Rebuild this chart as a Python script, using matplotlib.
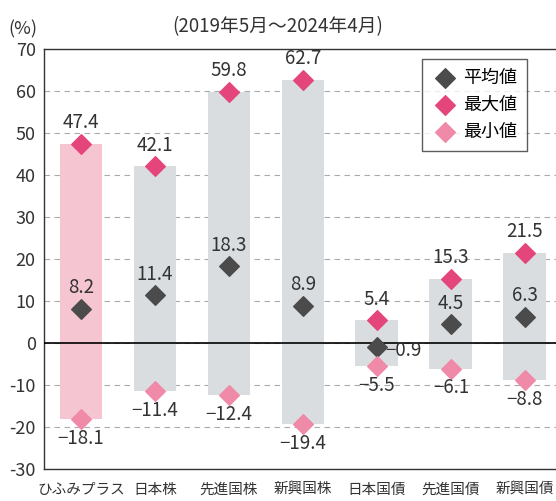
import matplotlib
matplotlib.use('Agg')
import matplotlib.pyplot as plt
import numpy as np

plt.rcParams['font.family'] = ['Noto Sans CJK JP', 'DejaVu Sans']

# data
categories = ['ひふみプラス', '日本株', '先進国株', '新興国株', '日本国債', '先進国債', '新興国債']
mean_vals = [8.2, 11.4, 18.3, 8.9, -0.9, 4.5, 6.3]
max_vals = [47.4, 42.1, 59.8, 62.7, 5.4, 15.3, 21.5]
min_vals = [-18.1, -11.4, -12.4, -19.4, -5.5, -6.1, -8.8]

c_mean = '#4b4b4b'
c_max = '#e4467b'
c_min = '#ef8aa8'
c_bar_main = '#f6c5d2'
c_bar = '#d9dde0'
c_text = '#333333'

fig = plt.figure(figsize=(5.56, 5.01), dpi=100)
ax = fig.add_axes([44 / 556, 1 - 469 / 501, 1 - 44 / 556, (469 - 49) / 501])

x = np.arange(len(categories))
colors = [c_bar_main] + [c_bar] * (len(categories) - 1)
ax.bar(x, np.array(max_vals) - np.array(min_vals), bottom=min_vals,
       width=0.58, color=colors, zorder=2)

ax.axhline(0, color='black', lw=1.2, zorder=3)

msize = 100
ax.scatter(x, mean_vals, marker='D', s=msize, color=c_mean, zorder=4, label='平均値')
ax.scatter(x, max_vals, marker='D', s=msize, color=c_max, zorder=4, label='最大値')
ax.scatter(x, min_vals, marker='D', s=msize, color=c_min, zorder=4, label='最小値')

fs = 13.5
for i in range(len(categories)):
    ax.text(x[i], max_vals[i] + 2.5, f'{max_vals[i]:.1f}', ha='center', va='bottom',
            fontsize=fs, color=c_text, zorder=5)
    if mean_vals[i] < 0:
        ax.text(x[i] + 0.11, mean_vals[i] - 1.0, f'−{abs(mean_vals[i]):.1f}', ha='left',
                va='center', fontsize=fs, color=c_text, zorder=5)
    else:
        ax.text(x[i], mean_vals[i] + 2.5, f'{mean_vals[i]:.1f}', ha='center', va='bottom',
                fontsize=fs, color=c_text, zorder=5)
    ax.text(x[i], min_vals[i] - 2.1, f'−{abs(min_vals[i]):.1f}', ha='center', va='top',
            fontsize=fs, color=c_text, zorder=5)

ax.set_xlim(-0.5, 6.42)
ax.set_ylim(-30, 70)
ax.set_yticks(np.arange(-30, 71, 10))
ax.set_yticklabels([str(v) for v in range(-30, 71, 10)], fontsize=13, color=c_text)
ax.set_xticks(x)
ax.set_xticklabels(categories, fontsize=10.5, color=c_text)
ax.tick_params(axis='both', length=0)
ax.tick_params(axis='y', pad=6)
ax.tick_params(axis='x', pad=10)
ax.grid(axis='y', ls=(0, (5, 4)), color='#aaaaaa', lw=0.8, zorder=1)
ax.spines['right'].set_visible(False)
for s in ['left', 'top', 'bottom']:
    ax.spines[s].set_color(c_text)
    ax.spines[s].set_linewidth(1.0)

leg = ax.legend(loc='upper right', bbox_to_anchor=(0.943, 0.976), fontsize=13,
                frameon=True, fancybox=False, edgecolor=c_text, handletextpad=0.3,
                borderpad=0.55, labelspacing=0.5, handlelength=1.4, borderaxespad=0)
leg.get_frame().set_linewidth(1.0)

fig.text(8 / 556, 1 - 29 / 501, '(%)', fontsize=13, va='center', ha='left', color=c_text)
fig.text(278 / 556, 1 - 27 / 501, '(2019年5月～2024年4月)', fontsize=13.5, ha='center',
         va='center', color=c_text)

fig.savefig('out.png', dpi=100)
